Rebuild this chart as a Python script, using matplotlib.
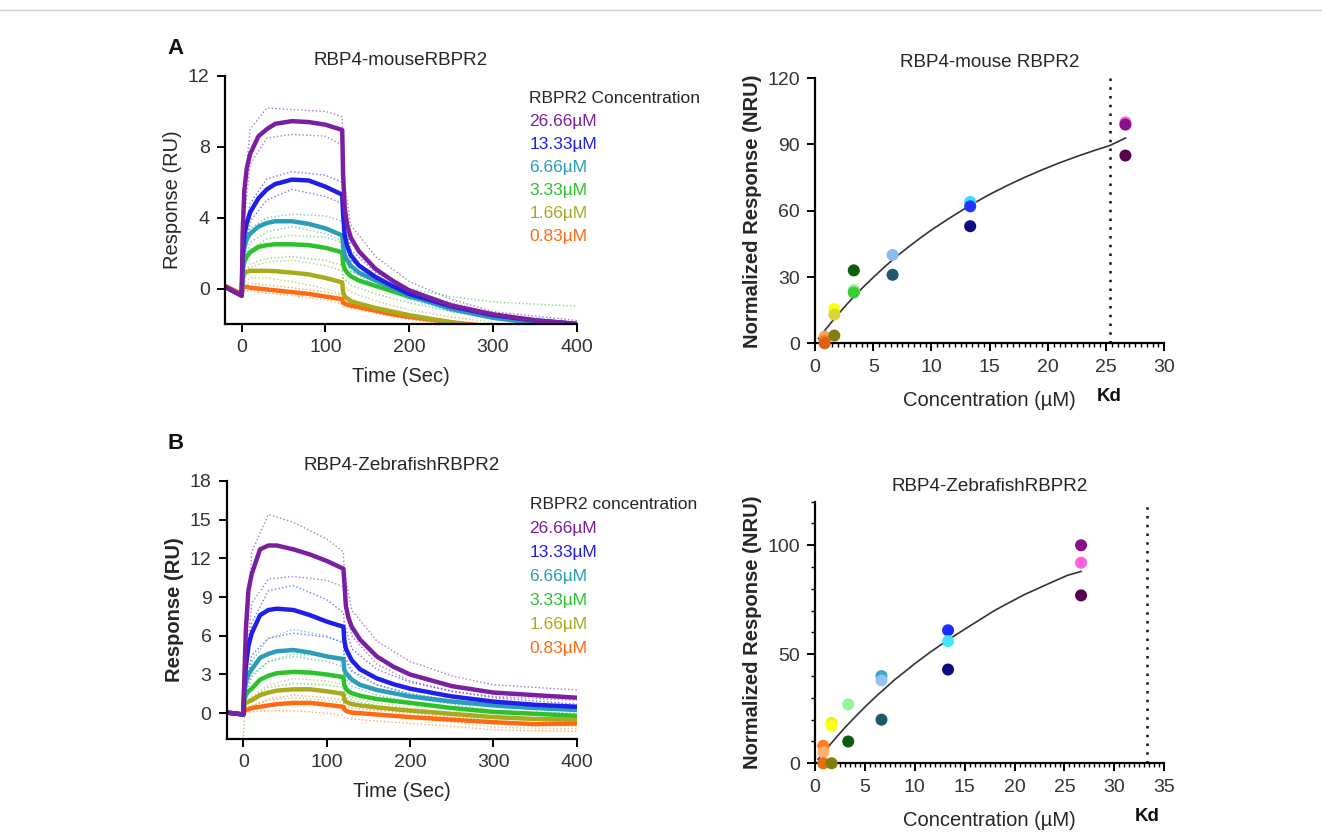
import matplotlib.pyplot as plt
import numpy as np
from matplotlib.ticker import MultipleLocator

plt.rcParams['font.family'] = ['Liberation Sans', 'DejaVu Sans']

nan = np.nan

# ---- sensorgram data ----
conc_labels = ['26.66\u00b5M', '13.33\u00b5M', '6.66\u00b5M', '3.33\u00b5M', '1.66\u00b5M', '0.83\u00b5M']
conc_colors = ['#7a1fa2', '#1f1fe8', '#2a9db8', '#2cc22c', '#a9ab1e', '#ff6a12']

t_main = [-20, 0, 1, 3, 6, 10, 20, 30, 40, 60, 80, 100, 120, 121, 123, 126, 130, 140, 160, 180, 200, 250, 300, 350, 400]

a_main = [
    [0.1, -0.4, 3.0, 5.5, 6.8, 7.6, 8.6, 9.0, 9.3, 9.45, 9.4, 9.25, 8.95, 6.5, 4.5, 3.6, 2.9, 2.1, 1.1, 0.45, -0.1, -0.95, -1.45, -1.8, -2.0],
    [0.1, -0.4, 1.8, 3.0, 3.7, 4.3, 5.1, 5.6, 5.9, 6.15, 6.1, 5.75, 5.3, 4.2, 3.0, 2.4, 1.9, 1.3, 0.65, 0.15, -0.3, -1.0, -1.5, -1.8, -2.0],
    [0.1, -0.4, 1.5, 2.3, 2.8, 3.1, 3.5, 3.7, 3.8, 3.8, 3.65, 3.4, 3.0, 2.4, 1.9, 1.6, 1.3, 0.9, 0.45, 0.05, -0.4, -1.15, -1.65, -1.95, nan],
    [0.1, -0.4, 1.0, 1.5, 1.8, 2.05, 2.35, 2.45, 2.5, 2.5, 2.45, 2.3, 2.05, 1.4, 1.1, 0.9, 0.7, 0.45, 0.15, -0.15, -0.45, -1.0, -1.5, -1.8, -2.0],
    [0.1, -0.4, 0.5, 0.85, 0.95, 1.0, 1.0, 1.0, 0.98, 0.9, 0.8, 0.6, 0.35, -0.2, -0.45, -0.55, -0.7, -0.85, -1.1, -1.3, -1.5, -1.9, -2.3, nan, nan],
    [0.15, -0.3, 0.1, 0.1, 0.1, 0.05, 0.0, -0.05, -0.1, -0.2, -0.3, -0.45, -0.6, -0.8, -0.85, -0.9, -0.95, -1.05, -1.25, -1.45, -1.6, -1.9, -2.15, nan, nan],
]

b_main = [
    [0.05, -0.1, 2.5, 6.5, 9.5, 10.8, 12.7, 13.0, 13.0, 12.7, 12.3, 11.8, 11.2, 10.3, 8.3, 7.4, 6.7, 5.7, 4.4, 3.6, 3.0, 2.1, 1.6, 1.4, 1.2],
    [0.05, -0.1, 2.0, 3.6, 5.2, 6.2, 7.6, 8.0, 8.1, 8.0, 7.6, 7.1, 6.7, 5.7, 5.0, 4.6, 4.1, 3.4, 2.7, 2.25, 1.9, 1.3, 0.9, 0.65, 0.5],
    [0.05, -0.1, 1.5, 2.4, 3.0, 3.4, 4.3, 4.6, 4.8, 4.9, 4.7, 4.4, 4.2, 3.4, 3.1, 2.9, 2.6, 2.2, 1.8, 1.55, 1.3, 0.9, 0.6, 0.4, 0.25],
    [0.05, -0.1, 1.0, 1.4, 1.7, 1.9, 2.6, 2.9, 3.1, 3.2, 3.15, 3.0, 2.8, 2.2, 1.9, 1.7, 1.55, 1.35, 1.1, 0.95, 0.8, 0.4, 0.1, -0.05, -0.2],
    [0.05, -0.1, 0.6, 0.8, 0.9, 1.0, 1.4, 1.6, 1.75, 1.85, 1.85, 1.7, 1.5, 1.1, 0.9, 0.8, 0.7, 0.6, 0.45, 0.32, 0.2, -0.05, -0.3, -0.45, -0.5],
    [0.05, -0.1, 0.2, 0.25, 0.3, 0.4, 0.5, 0.6, 0.7, 0.8, 0.8, 0.65, 0.5, 0.3, 0.2, 0.1, 0.05, 0.0, -0.1, -0.2, -0.3, -0.5, -0.7, -0.85, -0.8],
]

# replicate traces (thin dotted)
t_rep = [0, 2, 10, 30, 60, 100, 120, 121, 130, 160, 200, 250, 300, 400]

a_rep_hi = [
    [-0.4, 5.0, 9.0, 10.2, 10.1, 10.0, 9.7, 6.5, 3.6, 1.8, 0.4, -0.6, -1.3, -1.8],
    [-0.4, 2.5, 4.8, 6.2, 6.6, 6.4, 6.0, 4.5, 2.2, 0.9, -0.1, -0.8, -1.4, -1.9],
    [-0.4, 2.0, 3.4, 4.0, 4.2, 4.1, 3.8, 2.8, 1.6, 0.6, -0.2, -1.0, -1.5, -1.9],
    [-0.4, 1.2, 2.2, 2.8, 3.0, 2.9, 2.6, 1.8, 1.0, 0.4, 0.0, -0.45, -0.75, -1.0],
    [-0.4, 0.9, 1.2, 1.5, 1.6, 1.3, 1.0, 0.2, -0.2, -0.7, -1.2, -1.6, -1.9, nan],
    [-0.3, 0.3, 0.3, 0.2, 0.05, -0.2, -0.35, -0.6, -0.8, -1.1, -1.5, -1.85, nan, nan],
]
a_rep_lo = [
    [-0.4, 3.5, 7.0, 8.5, 8.7, 8.6, 8.1, 5.5, 2.6, 1.0, -0.1, -0.9, -1.5, -1.9],
    [-0.4, 2.0, 3.8, 5.0, 5.6, 5.2, 4.8, 3.6, 1.6, 0.4, -0.5, -1.1, -1.6, -2.0],
    [-0.4, 1.5, 2.6, 3.2, 3.5, 3.1, 2.7, 2.0, 1.0, 0.2, -0.6, -1.3, -1.7, -2.0],
    [-0.4, 0.8, 1.4, 1.7, 1.8, 1.6, 1.3, 0.6, 0.2, -0.3, -0.8, -1.3, -1.7, -2.0],
    [-0.4, 0.3, 0.6, 0.6, 0.4, 0.0, -0.3, -0.8, -1.0, -1.3, -1.7, -2.0, nan, nan],
    [-0.3, -0.1, -0.1, -0.25, -0.4, -0.65, -0.85, -1.0, -1.1, -1.4, -1.75, -2.0, nan, nan],
]
b_rep_hi = [
    [-0.2, 4.0, 12.5, 15.4, 14.8, 13.5, 12.5, 11.0, 8.0, 5.6, 4.0, 2.9, 2.2, 1.8],
    [-0.2, 2.5, 7.0, 9.5, 9.9, 8.8, 7.8, 7.0, 5.0, 3.4, 2.4, 1.7, 1.2, 0.7],
    [-0.2, 2.0, 4.0, 5.8, 6.5, 6.0, 5.4, 4.2, 3.2, 2.2, 1.5, 1.0, 0.7, 0.3],
    [-0.2, 1.2, 2.8, 4.0, 4.6, 4.4, 4.0, 3.0, 2.4, 1.7, 1.2, 0.7, 0.2, -0.3],
    [-0.2, 0.8, 1.3, 2.2, 2.7, 2.5, 2.2, 1.6, 1.2, 0.8, 0.4, 0.0, -0.4, -0.7],
    [-0.2, 0.4, 0.5, 1.1, 1.4, 1.2, 1.0, 0.6, 0.4, 0.2, 0.0, -0.3, -0.8, -1.0],
]
b_rep_lo = [
    [-0.2, 3.0, 8.5, 10.4, 10.6, 10.3, 9.8, 8.5, 6.0, 3.8, 2.5, 1.7, 1.3, 1.0],
    [-0.2, 2.0, 4.5, 5.8, 6.2, 5.9, 5.5, 4.5, 3.3, 2.2, 1.5, 1.0, 0.6, 0.3],
    [-0.2, 1.5, 3.0, 4.0, 4.4, 4.0, 3.6, 2.8, 2.1, 1.4, 0.9, 0.5, 0.2, 0.0],
    [-1.8, 0.3, 1.2, 2.0, 2.3, 2.2, 2.0, 1.4, 1.0, 0.6, 0.2, -0.2, -0.6, -0.9],
    [-0.2, 0.3, 0.6, 1.0, 1.2, 1.0, 0.8, 0.3, 0.1, -0.1, -0.4, -0.7, -1.1, -1.2],
    [-0.2, 0.0, 0.1, 0.2, 0.2, 0.0, -0.2, -0.3, -0.45, -0.6, -0.8, -1.0, -1.3, -1.4],
]

# ---- steady-state binding data ----
a_conc = [0.83, 0.83, 0.83, 1.66, 1.66, 1.66, 3.33, 3.33, 3.33, 6.66, 6.66, 13.33, 13.33, 13.33, 26.66, 26.66, 26.66]
a_resp = [3, 1, 0, 15.5, 13, 3.5, 33, 24, 23, 40, 31, 64, 62, 53, 100, 99, 85]
a_pt_colors = ['#ffa35c', '#f07a20', '#e06010', '#ffff00', '#d8d43a', '#7f7f10', '#0b5e0b', '#98f098', '#35d035',
               '#8cbcf0', '#1a5a6a', '#3cdcff', '#2035ff', '#0c0c80', '#ff60dc', '#8a108a', '#5a0050']
a_fit_x = [0.3, 0.83, 1.5, 2, 3, 4, 5, 6, 7, 8, 9, 10, 11.5, 13.33, 15, 16.5, 18, 19.5, 21, 22.5, 24, 25.3, 26.66]
a_fit_y = [2.1, 5.75, 10.1, 13.3, 19.2, 24.7, 29.8, 34.7, 39.3, 43.5, 47.5, 51.3, 56.5, 62.5, 67.4, 71.4, 75.1, 78.5, 81.7, 84.6, 87.3, 89.5, 92.9]
a_kd = 25.3

b_conc = [0.83, 0.83, 0.83, 1.66, 1.66, 1.66, 3.33, 3.33, 6.66, 6.66, 6.66, 13.33, 13.33, 13.33, 26.66, 26.66, 26.66]
b_resp = [8, 5, 0, 18.5, 17, 0, 27, 10, 40, 38, 20, 61, 56, 43, 100, 92, 77]
b_pt_colors = ['#ff7a20', '#ffb070', '#e07010', '#f5f000', '#ffff20', '#7f7f10', '#98f098', '#0b5e0b',
               '#35a8c8', '#96c2f2', '#1a5a6a', '#1a2cff', '#40e8ff', '#0c0c80', '#8a108a', '#ff60dc', '#5a0050']
b_fit_x = [0.3, 0.83, 1.5, 2, 3, 4, 5, 6, 7, 8, 9, 10, 11.5, 13.33, 15, 16.5, 18, 19.5, 21, 22.5, 24, 25.3, 26.66]
b_fit_y = [1.8, 4.8, 8.5, 11.2, 16.4, 21.2, 25.8, 30.2, 34.3, 38.4, 42.0, 45.7, 50.8, 56.6, 61.5, 65.8, 70.1, 73.8, 77.4, 80.5, 83.6, 86.2, 88.0]
b_kd = 33.3

TXT = '#262626'

fig = plt.figure(figsize=(13.22, 8.34), dpi=100)
fig.add_artist(plt.Line2D([0, 1], [0.988, 0.988], color='#cfcfcf', lw=1))


def style_axes(ax):
    for s in ['top', 'right']:
        ax.spines[s].set_visible(False)
    for s in ['left', 'bottom']:
        ax.spines[s].set_linewidth(1.6)
    ax.tick_params(direction='out', length=6, width=1.4, labelsize=14, pad=5, labelcolor='#333333')


def sensorgram(ax, main, rep_hi, rep_lo, ylim, yticks, title, legend_title, ylabel_weight):
    for i in range(6):
        ax.plot(t_rep, rep_hi[i], ':', color=conc_colors[i], lw=1.0, alpha=0.6)
        ax.plot(t_rep, rep_lo[i], ':', color=conc_colors[i], lw=1.0, alpha=0.6)
    for i in range(5, -1, -1):
        ax.plot(t_main, main[i], '-', color=conc_colors[i], lw=3.2, solid_capstyle='round')
    ax.set_xlim(-20, 400)
    ax.set_ylim(*ylim)
    ax.set_xticks([0, 100, 200, 300, 400])
    ax.set_yticks(yticks)
    style_axes(ax)
    ax.set_xlabel('Time (Sec)', fontsize=14.5, color=TXT, labelpad=8)
    ax.set_ylabel('Response (RU)', fontsize=14.5, color=TXT, fontweight=ylabel_weight, labelpad=4)
    ax.set_title(title, fontsize=13.6, color=TXT, pad=8)
    ax.text(0.865, 0.89, legend_title, transform=ax.transAxes, fontsize=12.5, color=TXT)
    for i, lab in enumerate(conc_labels):
        ax.text(0.865, 0.80 - i * 0.093, lab, transform=ax.transAxes, fontsize=12.5, color=conc_colors[i])


def binding(ax, x, y, cols, fx, fy, kd, xlim, xticks, yticks, title, minor_y):
    ax.plot(fx, fy, color='#333333', lw=1.2, zorder=2)
    ax.scatter(x, y, s=75, c=cols, zorder=3, clip_on=False, edgecolors='none')
    ax.axvline(kd, color='#111111', ls=(0, (1, 2.5)), lw=1.8)
    ax.set_xlim(*xlim)
    ax.set_ylim(0, 120)
    ax.set_xticks(xticks)
    ax.set_yticks(yticks)
    ax.xaxis.set_minor_locator(MultipleLocator(0.5))
    if minor_y:
        ax.yaxis.set_minor_locator(MultipleLocator(10))
    style_axes(ax)
    ax.tick_params(which='minor', length=3, width=1.0)
    ax.set_xlabel('Concentration (\u00b5M)', fontsize=14.5, color=TXT, labelpad=11)
    ax.set_ylabel('Normalized Response (NRU)', fontsize=14.5, color=TXT, fontweight='bold', labelpad=4)
    ax.set_title(title, fontsize=13.6, color=TXT, pad=8)
    ax.annotate('Kd', xy=(kd, 0), xycoords='data', xytext=(0, -38), textcoords='offset points',
                ha='center', va='center', fontsize=13.5, fontweight='bold', color='#111111')


ax1 = fig.add_axes([0.1702, 0.6115, 0.266, 0.2974])
sensorgram(ax1, a_main, a_rep_hi, a_rep_lo, (-2, 12), [0, 4, 8, 12],
           'RBP4-mouseRBPR2', 'RBPR2 Concentration', 'normal')

ax2 = fig.add_axes([0.6165, 0.5884, 0.2642, 0.3178])
binding(ax2, a_conc, a_resp, a_pt_colors, a_fit_x, a_fit_y, a_kd, (0, 30),
        [0, 5, 10, 15, 20, 25, 30], [0, 30, 60, 90, 120], 'RBP4-mouse RBPR2', False)

ax3 = fig.add_axes([0.1715, 0.1139, 0.2648, 0.3094])
sensorgram(ax3, b_main, b_rep_hi, b_rep_lo, (-2, 18), [0, 3, 6, 9, 12, 15, 18],
           'RBP4-ZebrafishRBPR2', 'RBPR2 concentration', 'bold')

ax4 = fig.add_axes([0.6165, 0.0848, 0.2642, 0.3137])
binding(ax4, b_conc, b_resp, b_pt_colors, b_fit_x, b_fit_y, b_kd, (0, 35),
        [0, 5, 10, 15, 20, 25, 30, 35], [0, 50, 100], 'RBP4-ZebrafishRBPR2', True)

fig.text(0.127, 0.935, 'A', fontsize=16, fontweight='bold', color='#111111')
fig.text(0.127, 0.462, 'B', fontsize=16, fontweight='bold', color='#111111')

fig.savefig('out.png', dpi=100, facecolor='white')
